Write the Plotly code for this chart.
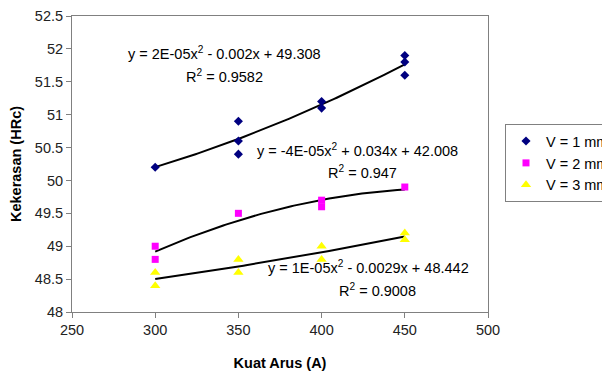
import numpy as np
import plotly.graph_objects as go

# Data
x_v1 = [300, 350, 350, 350, 400, 400, 450, 450, 450]
y_v1 = [50.2, 50.9, 50.6, 50.4, 51.2, 51.1, 51.9, 51.8, 51.6]

x_v2 = [300, 300, 350, 400, 400, 450]
y_v2 = [49.0, 48.8, 49.5, 49.7, 49.6, 49.9]

x_v3 = [300, 300, 350, 350, 400, 400, 450, 450]
y_v3 = [48.6, 48.4, 48.8, 48.6, 49.0, 48.8, 49.2, 49.1]

series_names = ["V = 1 mm/s", "V = 2 mm/s", "V = 3 mm/s"]
equations = [
    ("y = 2E-05x<sup>2</sup> - 0.002x + 49.308", "R<sup>2</sup> = 0.9582"),
    ("y = -4E-05x<sup>2</sup> + 0.034x + 42.008", "R<sup>2</sup> = 0.947"),
    ("y = 1E-05x<sup>2</sup> - 0.0029x + 48.442", "R<sup>2</sup> = 0.9008"),
]
x_ticks = [250, 300, 350, 400, 450, 500]
y_ticks = [48, 48.5, 49, 49.5, 50, 50.5, 51, 51.5, 52, 52.5]

FONT = "Liberation Sans, Arial, sans-serif"
FS = 14.5

# page offset of the figure div (browser body margin)
OFF = 8
PL, PR, PT, PB = 72 - OFF, 488 - OFF, 16 - OFF, 311.7 - OFF
W, H = 610 - OFF, 374 - OFF

def px2paper(px, py):
    return (px - OFF - PL) / (PR - PL), (PB - (py - OFF)) / (PB - PT)

fig = go.Figure()

styles = [
    dict(symbol="diamond", color="#000080", size=7),
    dict(symbol="square", color="#FF00FF", size=7),
    dict(symbol="triangle-up", color="#FFFF00", size=9),
]
data = [(x_v1, y_v1), (x_v2, y_v2), (x_v3, y_v3)]

# trendlines (2nd-order polynomial fit of each series)
for xs, ys in data:
    c = np.polyfit(xs, ys, 2)
    xf = np.linspace(min(xs), max(xs), 100)
    fig.add_trace(go.Scatter(x=xf, y=np.polyval(c, xf), mode="lines",
                             line=dict(color="black", width=2),
                             showlegend=False, hoverinfo="skip"))

for (xs, ys), name, st in zip(data, series_names, styles):
    fig.add_trace(go.Scatter(x=xs, y=ys, mode="markers", name=name,
                             marker=dict(symbol=st["symbol"], color=st["color"],
                                         size=st["size"], line=dict(width=0))))

# equation annotations (page pixel centres)
ann_pos = [((224, 53), (224, 76)), ((357, 150), (362, 172)), ((368, 267), (377, 290))]
for (eq, r2), ((x1, y1), (x2, y2)) in zip(equations, ann_pos):
    for txt, px, py in [(eq, x1, y1), (r2, x2, y2)]:
        ax, ay = px2paper(px, py)
        fig.add_annotation(text=txt, xref="paper", yref="paper", x=ax, y=ay,
                           showarrow=False, xanchor="center", yanchor="middle",
                           font=dict(family=FONT, size=FS, color="black"))

axis_common = dict(showline=True, linecolor="#808080", linewidth=1, mirror=True,
                   ticks="outside", ticklen=5, tickcolor="#808080", showgrid=False,
                   zeroline=False, tickfont=dict(family=FONT, size=FS, color="#222"))

lx, ly = px2paper(505, 124)
fig.update_layout(
    width=W, height=H,
    margin=dict(l=PL, r=W - PR, t=PT, b=H - PB, autoexpand=False),
    paper_bgcolor="white", plot_bgcolor="white",
    xaxis=dict(range=[250, 500], tickvals=x_ticks,
               title=dict(text="<b>Kuat Arus (A)</b>", font=dict(family=FONT, size=FS, color="black"),
                          standoff=20),
               **axis_common),
    yaxis=dict(range=[48, 52.5], tickvals=y_ticks,
               ticktext=[f"{v:g}" for v in y_ticks],
               title=dict(text="<b>Kekerasan (HRc)</b>", font=dict(family=FONT, size=FS, color="black"),
                          standoff=14),
               **axis_common),
    legend=dict(x=lx, y=ly, xanchor="left", yanchor="top",
                borderwidth=1, bordercolor="#808080", bgcolor="white",
                font=dict(family=FONT, size=FS, color="black"),
                itemwidth=30, tracegroupgap=0),
    showlegend=True,
)

fig.write_html("out.html")
